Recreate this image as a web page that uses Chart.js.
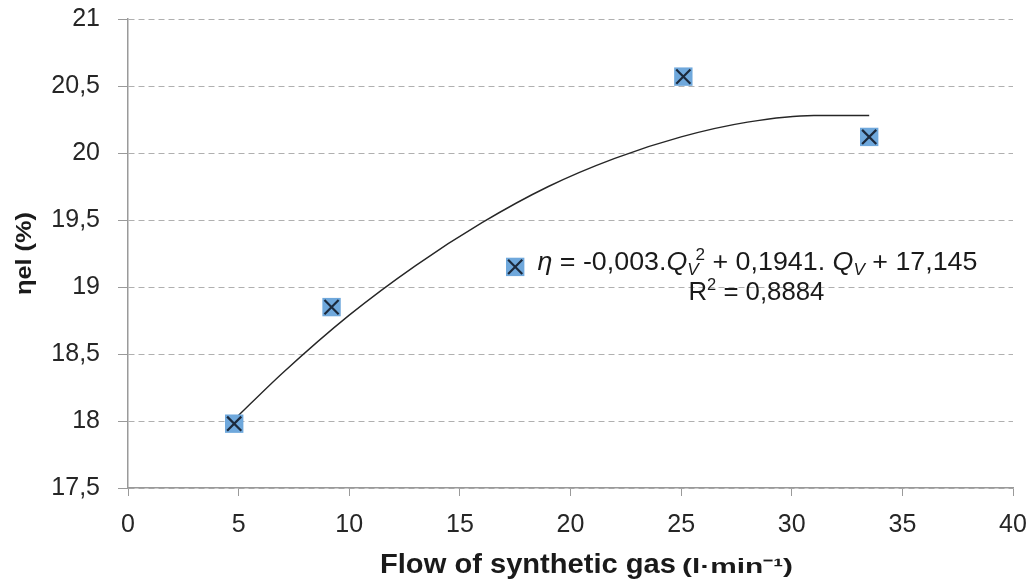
<!DOCTYPE html>
<html>
<head>
<meta charset="utf-8">
<script src="https://cdn.jsdelivr.net/npm/chart.js@4.4.1/dist/chart.umd.min.js"></script>
<style>
  html, body { margin: 0; padding: 0; background: #fff; }
  #wrap { width: 1029px; height: 582px; }
</style>
</head>
<body>
<div id="wrap"><canvas id="effChart"></canvas></div>
<script>
// measured points
const flowData = [4.8, 9.2, 17.5, 25.1, 33.5];
const effData = [17.98, 18.85, 19.15, 20.57, 20.12];

// trend curve
const trendFlow = [4.8, 7, 10, 13, 16, 19, 22, 25, 28, 31, 33.5];
const trendEff = [18.01, 18.36, 18.79, 19.16, 19.48, 19.75, 19.96, 20.12, 20.23, 20.28, 20.28];

// axis range
const xMin = 0, xMax = 40, xStep = 5;
const yMin = 17.5, yMax = 21, yStep = 0.5;

const yTitle = 'ηel (%)';
const xTitleMain = 'Flow of synthetic gas';
const xTitleUnit = '(l·min⁻¹)';

const FONT = '"Liberation Sans", Arial, sans-serif';

const toPts = (xs, ys) => xs.map((x, i) => ({ x: x, y: ys[i] }));

/** 텍스트 조각들을 이어서 그리고, 목표 폭에 맞춰 가로로 늘림 */
function drawRun(ctx, parts, left, baseline, targetW) {
    let total = 0;
    const widths = parts.map(p => {
        ctx.font = p.font;
        const w = ctx.measureText(p.text).width + (p.gap || 0);
        total += w;
        return w;
    });
    const sx = targetW ? targetW / total : 1;
    ctx.save();
    ctx.translate(left, baseline);
    ctx.scale(sx, 1);
    let px = 0;
    parts.forEach((p, i) => {
        ctx.font = p.font;
        ctx.fillText(p.text, px, p.dy || 0);
        px += widths[i];
    });
    ctx.restore();
}

/** 제목과 회귀식 텍스트 */
const textPlugin = {
    id: 'textPlugin',
    afterDraw(chart) {
        const ctx = chart.ctx;
        const xs = chart.scales.x, ys = chart.scales.y;
        ctx.save();
        ctx.fillStyle = '#1a1a1a';
        ctx.textBaseline = 'alphabetic';
        ctx.textAlign = 'left';

        // y title (rotated)
        ctx.save();
        ctx.translate(31, 295);
        ctx.rotate(-Math.PI / 2);
        drawRun(ctx, [{ font: 'bold 22px ' + FONT, text: yTitle }], 0, 0, 83);
        ctx.restore();

        // x title, two sizes
        drawRun(ctx, [{ font: 'bold 27px ' + FONT, text: xTitleMain }], 380, 573, 296);
        drawRun(ctx, [{ font: 'bold 21px ' + FONT, text: xTitleUnit }], 682, 573, 111);

        // equation
        const cx = xs.getPixelForValue(28.45);
        const by1 = ys.getPixelForValue(19.127);
        const by2 = ys.getPixelForValue(18.903);
        const reg = '25px ' + FONT, ita = 'italic 25px ' + FONT;
        const sml = '16px ' + FONT, smi = 'italic 16px ' + FONT;
        const eqW = 440;
        drawRun(ctx, [
            { font: ita, text: 'η ' },
            { font: reg, text: '= -0,003.' },
            { font: ita, text: 'Q' },
            { font: smi, text: 'V', dy: 5, gap: -3 },
            { font: sml, text: '2', dy: -10 },
            { font: reg, text: ' + 0,1941. ' },
            { font: ita, text: 'Q' },
            { font: smi, text: 'V', dy: 5 },
            { font: reg, text: ' + 17,145' }
        ], cx - eqW / 2, by1, eqW);
        const r2W = 136;
        drawRun(ctx, [
            { font: reg, text: 'R' },
            { font: sml, text: '2', dy: -10 },
            { font: reg, text: ' = 0,8884' }
        ], cx - 1 - r2W / 2, by2, r2W);
        ctx.restore();
    }
};

const ctx = document.getElementById('effChart').getContext('2d');
new Chart(ctx, {
    type: 'scatter',
    data: {
        datasets: [
            {
                label: 'trend',
                type: 'line',
                data: toPts(trendFlow, trendEff),
                borderColor: '#262626',
                borderWidth: 1.4,
                pointRadius: 0,
                fill: false,
                cubicInterpolationMode: 'monotone',
                order: 3
            },
            {
                label: 'box',
                data: toPts(flowData, effData),
                pointStyle: 'rect',
                pointRadius: 13,
                pointHoverRadius: 13,
                backgroundColor: '#6fa8dc',
                borderColor: '#6fa8dc',
                borderWidth: 0,
                order: 2
            },
            {
                label: 'cross',
                data: toPts(flowData, effData),
                pointStyle: 'crossRot',
                pointRadius: 10,
                pointHoverRadius: 10,
                borderColor: '#1c2a3d',
                borderWidth: 2.2,
                order: 1
            }
        ]
    },
    options: {
        responsive: true,
        maintainAspectRatio: false,
        animation: false,
        layout: { padding: 0 },
        plugins: {
            legend: { display: false },
            tooltip: { enabled: false }
        },
        scales: {
            x: {
                type: 'linear',
                min: xMin, max: xMax,
                ticks: {
                    stepSize: xStep,
                    color: '#262626',
                    font: { family: FONT, size: 25 },
                    padding: 14
                },
                grid: { drawOnChartArea: false, drawTicks: true, tickLength: 8, color: '#9a9a9a' },
                border: { color: '#9a9a9a', width: 1.5 },
                afterFit(scale) {
                    scale.height = 94;
                    scale.paddingRight = 16;
                }
            },
            y: {
                min: yMin, max: yMax,
                ticks: {
                    stepSize: yStep,
                    color: '#262626',
                    font: { family: FONT, size: 25 },
                    padding: 18,
                    callback: v => String(v).replace('.', ',')
                },
                grid: {
                    color: '#b0b0b0',
                    lineWidth: 1,
                    tickLength: 10,
                    tickColor: '#9a9a9a'
                },
                border: { color: '#9a9a9a', width: 1.5, dash: [6, 4] },
                afterFit(scale) {
                    scale.width = 128;
                    scale.paddingTop = 19;
                }
            }
        }
    },
    plugins: [textPlugin]
});
</script>
</body>
</html>
